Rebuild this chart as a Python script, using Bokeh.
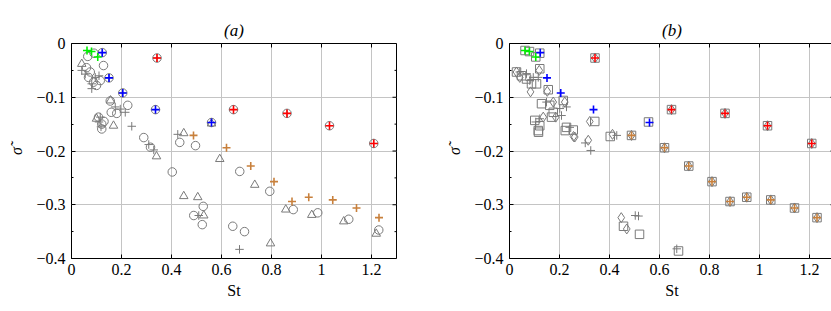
import math
from bokeh.plotting import figure
from bokeh.layouts import row
from bokeh.models import Range1d, FixedTicker, CustomJSTickFormatter
from bokeh.embed import file_html
from bokeh.resources import INLINE

# ---- shared model points (coloured pluses) ----
green_x = [0.062, 0.080, 0.105]
green_y = [-0.013, -0.015, -0.025]
blue_x = [0.123, 0.150, 0.205, 0.336, 0.560]
blue_y = [-0.017, -0.064, -0.092, -0.123, -0.147]
red_x = [0.342, 0.648, 0.862, 1.032, 1.209]
red_y = [-0.027, -0.123, -0.130, -0.153, -0.186]
orange_x = [0.488, 0.620, 0.717, 0.810, 0.882, 0.949, 1.045, 1.140, 1.230]
orange_y = [-0.171, -0.194, -0.228, -0.257, -0.294, -0.286, -0.291, -0.306, -0.324]

# ---- panel (a) grey data ----
a_circle_x = [0.065, 0.090, 0.123, 0.150, 0.205, 0.336, 0.560, 0.342, 0.648, 0.862, 1.032, 1.209,
              0.128, 0.075, 0.088, 0.115, 0.068, 0.100, 0.060,
              0.108, 0.121, 0.121, 0.130,
              0.155, 0.181, 0.225, 0.159,
              0.289, 0.316, 0.403, 0.433, 0.496, 0.527, 0.489, 0.523, 0.645, 0.692,
              0.673, 0.793, 0.887, 0.985, 1.109, 1.229]
a_circle_y = [-0.024, -0.018, -0.017, -0.064, -0.092, -0.123, -0.147, -0.027, -0.123, -0.130, -0.153, -0.186,
              -0.041, -0.053, -0.072, -0.069, -0.063, -0.078, -0.045,
              -0.137, -0.150, -0.159, -0.145,
              -0.107, -0.130, -0.115, -0.128,
              -0.175, -0.193, -0.239, -0.184, -0.190, -0.303, -0.320, -0.337, -0.340, -0.350,
              -0.238, -0.275, -0.309, -0.315, -0.327, -0.347]
a_tri_x = [0.041, 0.156, 0.168, 0.100, 0.340, 0.449, 0.560, 0.593, 0.449, 0.505, 0.529,
           0.733, 0.857, 0.961, 1.089, 1.219, 0.796]
a_tri_y = [-0.038, -0.106, -0.153, -0.140, -0.210, -0.167, -0.149, -0.215, -0.284, -0.286, -0.320,
           -0.263, -0.309, -0.319, -0.331, -0.354, -0.372]
a_plus_x = [0.041, 0.055, 0.081, 0.095, 0.081, 0.110,
            0.115, 0.110, 0.118,
            0.175, 0.195, 0.215, 0.241,
            0.309, 0.329, 0.425, 0.509, 0.672,
            0.342, 0.648, 0.862, 1.032, 1.209, 0.123, 0.150, 0.205, 0.336, 0.560]
a_plus_y = [-0.050, -0.057, -0.075, -0.063, -0.084, -0.060,
            -0.137, -0.146, -0.155,
            -0.118, -0.122, -0.128, -0.154,
            -0.188, -0.198, -0.169, -0.320, -0.383,
            -0.027, -0.123, -0.130, -0.153, -0.186, -0.017, -0.064, -0.092, -0.123, -0.147]

# ---- panel (b) grey data ----
b_square_x = [0.062, 0.080, 0.105, 0.121, 0.556, 0.342, 0.648, 0.862, 1.032, 1.209,
              0.488, 0.620, 0.717, 0.810, 0.882, 0.949, 1.045, 1.140, 1.230,
              0.028, 0.048, 0.068, 0.088, 0.108, 0.121, 0.155, 0.128, 0.161, 0.175, 0.215,
              0.101, 0.121, 0.115, 0.168, 0.228, 0.255, 0.341, 0.403,
              0.116, 0.223, 0.456, 0.520, 0.676]
b_square_y = [-0.013, -0.015, -0.025, -0.018, -0.146, -0.027, -0.123, -0.130, -0.153, -0.186,
              -0.171, -0.194, -0.228, -0.257, -0.294, -0.286, -0.291, -0.306, -0.324,
              -0.053, -0.060, -0.066, -0.075, -0.075, -0.047, -0.086, -0.112, -0.115, -0.128, -0.106,
              -0.143, -0.153, -0.162, -0.137, -0.156, -0.161, -0.145, -0.173,
              -0.165, -0.162, -0.340, -0.355, -0.386]
b_diamond_x = [0.342, 0.648, 0.862, 1.032, 1.209,
               0.488, 0.620, 0.717, 0.810, 0.882, 0.949, 1.045, 1.140, 1.230,
               0.028, 0.041, 0.084, 0.119, 0.151, 0.175, 0.221, 0.135, 0.185, 0.261,
               0.321, 0.315, 0.412, 0.256, 0.447, 0.469]
b_diamond_y = [-0.027, -0.123, -0.130, -0.153, -0.186,
               -0.171, -0.194, -0.228, -0.257, -0.294, -0.286, -0.291, -0.306, -0.324,
               -0.053, -0.063, -0.090, -0.050, -0.089, -0.109, -0.109, -0.137, -0.137, -0.174,
               -0.145, -0.180, -0.169, -0.173, -0.324, -0.345]
b_plus_x = [0.041, 0.068, 0.081, 0.095, 0.115, 0.148, 0.201, 0.121, 0.105, 0.208, 0.241, 0.228,
            0.303, 0.325, 0.429, 0.503, 0.516, 0.669]
b_plus_y = [-0.053, -0.056, -0.069, -0.063, -0.063, -0.109, -0.121, -0.140, -0.146, -0.134, -0.156, -0.118,
            -0.185, -0.199, -0.171, -0.320, -0.321, -0.382]

x_ticks = [0, 0.2, 0.4, 0.6, 0.8, 1.0, 1.2]
y_ticks = [-0.4, -0.3, -0.2, -0.1, 0]
y_minor = [-0.35, -0.25, -0.15, -0.05]
X_MAX = 1.3
Y_MAX = 0.0

FONT = "Liberation Serif"
GREY = "#7a7a7a"

xfmt = "return String(parseFloat(tick.toFixed(1)));"
yfmt = "var s = String(parseFloat(Math.abs(tick).toFixed(1))); return tick < -1e-9 ? '\u2212' + s : s;"


def make_panel(title, left_border, right_border):
    p = figure(frame_width=325, frame_height=215,
               x_range=Range1d(0, X_MAX), y_range=Range1d(-0.4, Y_MAX),
               output_backend="svg", toolbar_location=None,
               min_border_left=left_border, min_border_right=right_border,
               min_border_top=43, min_border_bottom=50)
    p.title.text = title
    p.title.align = "center"
    p.title.text_font = FONT
    p.title.text_font_style = "italic"
    p.title.text_font_size = "17px"
    p.title.text_color = "black"
    p.title.standoff = 8
    p.outline_line_color = "black"
    p.outline_line_width = 1
    p.background_fill_color = "white"
    p.border_fill_color = "white"

    xt = FixedTicker(ticks=x_ticks, minor_ticks=[])
    yt = FixedTicker(ticks=y_ticks, minor_ticks=y_minor)
    p.xaxis.ticker = xt
    p.yaxis.ticker = yt
    p.xaxis.formatter = CustomJSTickFormatter(code=xfmt)
    p.yaxis.formatter = CustomJSTickFormatter(code=yfmt)
    p.xaxis.axis_label = "St"
    p.yaxis.axis_label = "σ̃"
    p.xaxis.major_label_standoff = 5
    p.yaxis.major_label_standoff = 6
    p.xaxis.axis_label_standoff = 4
    p.yaxis.axis_label_standoff = 8
    for ax in p.xaxis + p.yaxis:
        ax.axis_line_color = None
        ax.major_tick_in = 4
        ax.major_tick_out = 0
        ax.minor_tick_in = 2
        ax.minor_tick_out = 0
        ax.major_tick_line_color = "black"
        ax.minor_tick_line_color = "black"
        ax.major_label_text_font = FONT
        ax.major_label_text_font_size = "16px"
        ax.major_label_text_color = "black"
        ax.axis_label_text_font = FONT
        ax.axis_label_text_font_size = "16px"
        ax.axis_label_text_color = "black"
    p.xaxis.axis_label_text_font_style = "normal"
    p.yaxis.axis_label_text_font_style = "italic"

    p.xgrid.ticker = xt
    p.ygrid.ticker = yt
    p.xgrid.grid_line_color = "#c4c4c4"
    p.ygrid.grid_line_color = "#c4c4c4"
    p.xgrid.grid_line_width = 1
    p.ygrid.grid_line_width = 1

    # mirrored inward ticks on top and right edges (half of each dash is clipped by the frame)
    p.scatter(x_ticks, [Y_MAX] * len(x_ticks), marker="dash", angle=math.pi / 2, size=8,
              line_color="black", line_width=1)
    p.scatter([X_MAX] * len(y_ticks), y_ticks, marker="dash", size=8,
              line_color="black", line_width=1)
    p.scatter([X_MAX] * len(y_minor), y_minor, marker="dash", size=4,
              line_color="black", line_width=1)
    return p


def add_model(p):
    kw = dict(marker="cross", size=8, line_width=1.6)
    p.scatter(green_x, green_y, line_color="#00ee00", **kw)
    p.scatter(blue_x, blue_y, line_color="#0000ff", **kw)
    p.scatter(red_x, red_y, line_color="#ff0000", **kw)
    p.scatter(orange_x, orange_y, line_color="#c8803c", **kw)


pa = make_panel("(a)", 71, 47)
pa.scatter(a_circle_x, a_circle_y, marker="circle", size=8.5, fill_color=None, line_color=GREY, line_width=1)
pa.scatter(a_tri_x, a_tri_y, marker="triangle", size=8.5, fill_color=None, line_color=GREY, line_width=1)
pa.scatter(a_plus_x, a_plus_y, marker="cross", size=8.5, line_color=GREY, line_width=1)
add_model(pa)

pb = make_panel("(b)", 63, 0)
pb.scatter(b_square_x, b_square_y, marker="square", size=8.5, fill_color=None, line_color=GREY, line_width=1)
pb.scatter(b_diamond_x, b_diamond_y, marker="diamond", size=10, fill_color=None, line_color=GREY, line_width=1)
pb.scatter(b_plus_x, b_plus_y, marker="cross", size=8.5, line_color=GREY, line_width=1)
add_model(pb)

layout = row(pa, pb, spacing=0)
open("out.html", "w").write(file_html(layout, INLINE))
